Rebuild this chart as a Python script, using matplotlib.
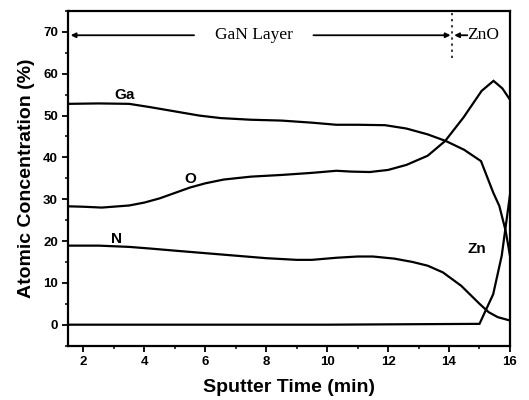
import matplotlib
matplotlib.use("Agg")
import matplotlib.pyplot as plt
from matplotlib.ticker import MultipleLocator

# Data
ga_x = [1.5, 2.5, 3.5, 4.2, 5.0, 5.8, 6.5, 7.5, 8.5, 9.5, 10.3, 11.0, 11.9, 12.6, 13.3, 13.9, 14.5, 15.05, 15.45, 15.65, 15.86, 16.0]
ga_y = [52.8, 52.9, 52.8, 52.0, 51.0, 50.0, 49.4, 49.0, 48.8, 48.3, 47.8, 47.8, 47.7, 46.9, 45.5, 43.9, 41.8, 39.1, 31.6, 28.4, 22.4, 16.5]

o_x = [1.5, 2.0, 2.6, 3.5, 4.0, 4.5, 5.0, 5.5, 6.0, 6.6, 7.5, 8.5, 9.5, 10.3, 10.8, 11.4, 12.0, 12.6, 13.3, 13.87, 14.47, 15.07, 15.46, 15.75, 16.0]
o_y = [28.3, 28.2, 28.0, 28.5, 29.2, 30.2, 31.5, 32.8, 33.8, 34.7, 35.4, 35.8, 36.3, 36.8, 36.6, 36.5, 37.0, 38.2, 40.4, 43.9, 49.5, 55.9, 58.3, 56.5, 53.8]

n_x = [1.5, 2.5, 3.5, 4.2, 5.0, 6.0, 7.0, 8.0, 9.0, 9.5, 10.3, 11.0, 11.5, 12.2, 12.8, 13.3, 13.8, 14.4, 15.0, 15.3, 15.6, 16.0]
n_y = [18.9, 18.9, 18.6, 18.2, 17.7, 17.1, 16.5, 15.9, 15.5, 15.5, 16.0, 16.3, 16.3, 15.8, 15.0, 14.1, 12.5, 9.3, 5.0, 3.0, 1.8, 1.0]

zn_x = [1.5, 5.0, 10.0, 15.0, 15.45, 15.73, 16.0]
zn_y = [0.0, 0.0, 0.0, 0.2, 7.3, 16.5, 31.0]

series_labels = ["Ga", "O", "N", "Zn"]
label_pos = [(3.35, 55.0), (5.5, 34.8), (3.07, 20.4), (14.9, 18.1)]

x_ticks = [2, 4, 6, 8, 10, 12, 14, 16]
y_ticks = [0, 10, 20, 30, 40, 50, 60, 70]

sans = ["Liberation Sans", "DejaVu Sans"]
serif = ["Liberation Serif", "DejaVu Serif"]

fig = plt.figure(figsize=(5.29, 4.0), dpi=100)
ax = fig.add_axes([0.129, 0.136, 0.835, 0.8365])

for xs, ys in [(ga_x, ga_y), (o_x, o_y), (n_x, n_y), (zn_x, zn_y)]:
    ax.plot(xs, ys, color="black", lw=1.6, solid_joinstyle="miter")

for lab, (lx, ly) in zip(series_labels, label_pos):
    ax.text(lx, ly, lab, ha="center", va="center", fontsize=11,
            fontweight="bold", family=sans)

ax.set_xlim(1.5, 16)
ax.set_ylim(-5, 75)
ax.set_xticks(x_ticks)
ax.set_yticks(y_ticks)
ax.xaxis.set_minor_locator(MultipleLocator(1))
ax.yaxis.set_minor_locator(MultipleLocator(5))
ax.tick_params(which="major", direction="out", length=4, width=1.3,
               labelsize=9.5, top=False, right=False)
ax.tick_params(which="minor", direction="out", length=2.5, width=1.1,
               top=False, right=False)
for lab in ax.get_xticklabels() + ax.get_yticklabels():
    lab.set_fontweight("bold")
    lab.set_family(sans)
for sp in ax.spines.values():
    sp.set_linewidth(1.6)

ax.set_xlabel("Sputter Time (min)", fontsize=14, fontweight="bold", family=sans, labelpad=8)
ax.set_ylabel("Atomic Concentration (%)", fontsize=14, fontweight="bold", family=sans, labelpad=6)

# Layer annotations
arr = dict(arrowstyle="-|>", color="black", lw=1.3, mutation_scale=7, shrinkA=0, shrinkB=0)
ax.annotate("", xy=(1.58, 69.2), xytext=(5.63, 69.2), arrowprops=arr)
ax.annotate("", xy=(14.05, 69.2), xytext=(9.55, 69.2), arrowprops=arr)
ax.annotate("", xy=(14.17, 69.2), xytext=(14.6, 69.2), arrowprops=arr)
ax.text(7.6, 69.2, "GaN Layer", ha="center", va="center", fontsize=12.5, family=serif)
ax.text(14.58, 69.2, "ZnO", ha="left", va="center", fontsize=12.5, family=serif)
ax.plot([14.1, 14.1], [63.8, 74.5], color="black", lw=1.1, ls=(0, (1.5, 2.5)))

fig.savefig("out.png", dpi=100)
